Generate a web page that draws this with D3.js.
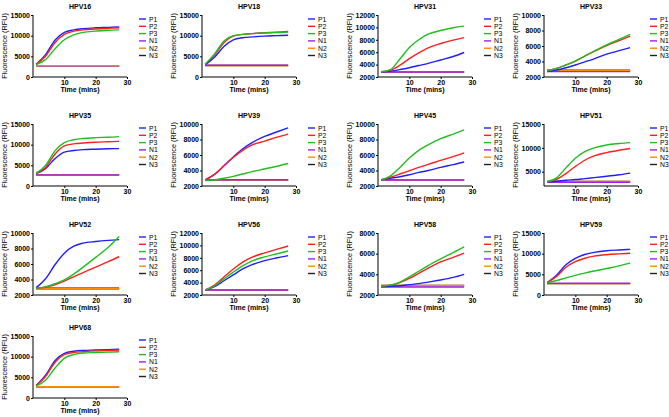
<!DOCTYPE html>
<html><head><meta charset="utf-8">
<script src="https://cdn.jsdelivr.net/npm/d3@7"></script>
<style>body{margin:0;background:#fff}svg{display:block}</style>
</head><body>
<script>
const panels = ["HPV16","HPV18","HPV31","HPV33","HPV35","HPV39","HPV45","HPV51","HPV52","HPV56","HPV58","HPV59","HPV68"];
const times = [1,4,7,10,13,16,20,24,27.5];
const seriesNames = ["P1","P2","P3","N1","N2","N3"];
const seriesColors = ["#1f1fff","#ff1f1f","#1fbf1f","#a020f0","#ff8c00","#222222"];
const yDomains = [[0,15000],[0,15000],[2000,12000],[2000,10000],[0,15000],[2000,10000],[2000,10000],[2000,15000],[2000,10000],[2000,12000],[2000,8000],[0,15000],[0,15000]];
const yTicks = [[0,5000,10000,15000],[0,5000,10000,15000],[2000,4000,6000,8000,10000,12000],[2000,4000,6000,8000,10000],[0,5000,10000,15000],[2000,4000,6000,8000,10000],[2000,4000,6000,8000,10000],[5000,10000,15000],[2000,4000,6000,8000,10000],[2000,4000,6000,8000,10000,12000],[2000,4000,6000,8000],[0,5000,10000,15000],[0,5000,10000,15000]];
const xTicks = [10,20,30];

const P1 = [
 [3100,5400,8900,10800,11400,11700,11900,12000,12100],
 [3000,4800,7400,9000,9500,9700,9900,10000,10100],
 [2800,2950,3200,3500,3850,4200,4750,5300,5950],
 [2700,2900,3200,3550,3950,4350,4950,5400,5800],
 [3000,4200,6600,8200,8600,8800,8900,9000,9050],
 [2800,3500,4600,5750,6800,7600,8400,9000,9500],
 [2800,3000,3200,3450,3750,4000,4400,4750,5100],
 [2850,3000,3200,3350,3550,3750,4050,4350,4700],
 [2950,4100,5900,7400,8300,8700,8900,9050,9150],
 [2800,3350,4300,5250,6200,6900,7550,8000,8350],
 [2800,2850,2900,3000,3100,3250,3450,3700,4000],
 [3000,4800,7300,8850,9800,10300,10700,10900,11050],
 [3000,5500,9000,10800,11300,11500,11600,11700,11800]
];
const P2 = [
 [3050,5000,8300,10300,11100,11400,11600,11800,11900],
 [3100,5300,8300,9900,10300,10500,10700,10850,11000],
 [2850,3100,3900,4970,5900,6700,7400,7950,8350],
 [2800,3100,3550,4050,4700,5300,6050,6700,7280],
 [3050,4500,7700,9700,10200,10400,10600,10700,10800],
 [2800,3500,4600,5700,6600,7300,7800,8300,8700],
 [2800,3150,3550,3970,4400,4800,5300,5800,6280],
 [2900,3400,4600,6100,7400,8300,9000,9500,9850],
 [2850,3000,3300,3800,4350,4900,5600,6300,6950],
 [2800,3600,4900,6200,7300,8100,8800,9400,9900],
 [2850,2950,3200,3600,4100,4600,5200,5650,6050],
 [3000,4500,6700,8050,8900,9400,9750,9950,10100],
 [3000,5200,8600,10500,11000,11200,11400,11500,11600]
];
const P3 = [
 [3000,4200,6800,9000,10200,10800,11100,11300,11400],
 [3100,5600,8700,10000,10300,10500,10650,10750,10850],
 [2850,3200,4900,6760,8000,8900,9500,9950,10200],
 [2800,3100,3550,4050,4700,5350,6150,6850,7500],
 [3100,5000,8500,10500,11200,11500,11700,11800,11950],
 [2700,2800,3000,3250,3550,3850,4200,4550,4900],
 [2800,3300,4400,5600,6600,7300,8100,8700,9250],
 [2900,3700,5800,7800,9200,10000,10600,10900,11100],
 [2850,3050,3450,3950,4700,5600,6850,8150,9550],
 [2800,3450,4600,5700,6700,7500,8150,8650,9100],
 [2850,2950,3250,3750,4300,4850,5500,6100,6650],
 [3000,3500,4150,4750,5300,5800,6400,7050,7700],
 [2900,4300,7200,9600,10500,10900,11000,11100,11200]
];
const N1 = [
 [2700,2700,2700,2700,2700,2700,2700,2700,2700],
 [2850,2850,2850,2850,2850,2850,2850,2850,2850],
 [2800,2800,2800,2800,2800,2800,2800,2800,2800],
 [2700,2700,2700,2700,2700,2700,2700,2700,2700],
 [2700,2700,2700,2700,2700,2700,2700,2700,2700],
 [2800,2800,2800,2800,2800,2800,2800,2800,2800],
 [2780,2780,2780,2780,2780,2780,2780,2780,2780],
 [2800,2800,2800,2800,2800,2800,2800,2800,2800],
 [2900,2900,2900,2900,2900,2900,2900,2900,2900],
 [2800,2800,2800,2800,2800,2800,2800,2800,2800],
 [2780,2780,2780,2780,2780,2780,2780,2780,2780],
 [2850,2850,2850,2850,2850,2850,2850,2850,2850],
 [2700,2700,2700,2700,2700,2700,2700,2700,2700]
];
const N2 = [
 [2750,2750,2750,2750,2750,2750,2750,2750,2750],
 [2780,2780,2780,2780,2780,2780,2780,2780,2780],
 [2780,2780,2780,2780,2780,2780,2780,2780,2780],
 [2880,2880,2880,2880,2880,2880,2880,2880,2880],
 [2650,2650,2650,2650,2650,2650,2650,2650,2650],
 [2780,2780,2780,2780,2780,2780,2780,2780,2780],
 [2750,2750,2750,2750,2750,2750,2750,2750,2750],
 [2950,2950,2950,2950,2950,2950,2950,2950,2950],
 [2800,2800,2800,2800,2800,2800,2800,2800,2800],
 [2780,2780,2780,2780,2780,2780,2780,2780,2780],
 [2920,2920,2920,2920,2920,2920,2920,2920,2920],
 [2750,2750,2750,2750,2750,2750,2750,2750,2750],
 [2750,2750,2750,2750,2750,2750,2750,2750,2750]
];
const N3 = [
 [2700,2700,2700,2700,2700,2700,2700,2700,2700],
 [2780,2780,2780,2780,2780,2780,2780,2780,2780],
 [2780,2780,2780,2780,2780,2780,2780,2780,2780],
 [2880,2880,2880,2880,2880,2880,2880,2880,2880],
 [2650,2650,2650,2650,2650,2650,2650,2650,2650],
 [2780,2780,2780,2780,2780,2780,2780,2780,2780],
 [2750,2750,2750,2750,2750,2750,2750,2750,2750],
 [2950,2950,2950,2950,2950,2950,2950,2950,2950],
 [2800,2800,2800,2800,2800,2800,2800,2800,2800],
 [2780,2780,2780,2780,2780,2780,2780,2780,2780],
 [2920,2920,2920,2920,2920,2920,2920,2920,2920],
 [2750,2750,2750,2750,2750,2750,2750,2750,2750],
 [2750,2750,2750,2750,2750,2750,2750,2750,2750]
];
const allSeries = [P1,P2,P3,N1,N2,N3];
// which negative control is drawn in front in each panel (3 = N1, 4 = N2)
const frontNeg = [4,3,3,3,3,3,3,3,4,3,3,3,4];

const W = 669, H = 417;
const colX = [33, 202, 378, 544];
const rowY = [15, 124, 233, 336];
const PW = 94, PH = 62;
const FONT = "'Liberation Sans', Arial, sans-serif";

const svg = d3.select("body").append("svg").attr("width", W).attr("height", H)
  .style("font-family", FONT);

panels.forEach((name, i) => {
  const left = colX[i % 4], top = rowY[Math.floor(i / 4)];
  const x = d3.scaleLinear().domain([0, 30]).range([left, left + PW]);
  const y = d3.scaleLinear().domain(yDomains[i]).range([top + PH, top]);
  const g = svg.append("g");

  g.append("text").attr("x", left + PW / 2).attr("y", top - 6)
    .attr("text-anchor", "middle").attr("font-size", 7).attr("font-weight", "bold").text(name);

  const yAx = g.append("g").attr("transform", `translate(${left},0)`)
    .call(d3.axisLeft(y).tickValues(yTicks[i]).tickFormat(d3.format("d")).tickSize(2).tickPadding(1));
  const xAx = g.append("g").attr("transform", `translate(0,${top + PH})`)
    .call(d3.axisBottom(x).tickValues(xTicks).tickSize(2).tickPadding(1));
  [yAx, xAx].forEach(a => {
    a.selectAll("text").attr("font-size", 7).attr("font-weight", "bold").attr("fill", "#000").style("font-family", FONT);
    a.selectAll("path,line").attr("stroke", "#000").attr("stroke-width", 1);
  });
  yAx.select("path.domain").attr("d", `M0,${top + PH}V${top}`);
  xAx.select("path.domain").attr("d", `M${left},0H${left + PW}`);

  g.append("text").attr("transform", `translate(${left - 26.5},${top + PH / 2}) rotate(-90)`)
    .attr("text-anchor", "middle").attr("font-size", 7.3).text("Fluorescence (RFU)");
  g.append("text").attr("x", left + PW / 2).attr("y", top + PH + 15)
    .attr("text-anchor", "middle").attr("font-size", 7).attr("font-weight", "bold").text("Time (mins)");

  const line = d3.line().x((d, k) => x(times[k])).y(d => y(d)).curve(d3.curveMonotoneX);
  const order = [5, frontNeg[i] === 3 ? 4 : 3, frontNeg[i], 0, 1, 2];
  order.forEach(s => {
    g.append("path").attr("d", line(allSeries[s][i])).attr("fill", "none")
      .attr("stroke", seriesColors[s]).attr("stroke-width", 1.4);
  });

  const lx = left + 106;
  seriesNames.forEach((sn, s) => {
    const ly = top + 4 + s * 7.3;
    g.append("line").attr("x1", lx).attr("x2", lx + 7).attr("y1", ly).attr("y2", ly)
      .attr("stroke", seriesColors[s]).attr("stroke-width", 1.4);
    g.append("text").attr("x", lx + 10).attr("y", ly + 2.5).attr("font-size", 6.8).text(sn);
  });
});
</script>
</body></html>
